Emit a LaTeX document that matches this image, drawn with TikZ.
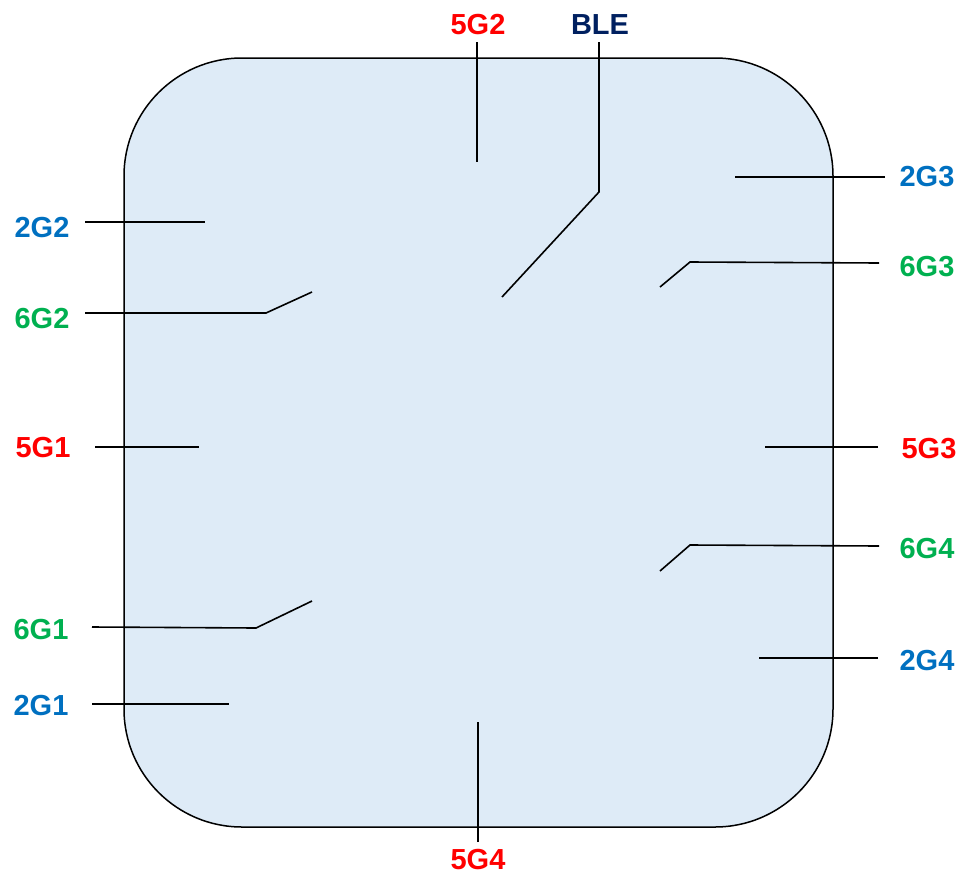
\documentclass[tikz,border=0pt]{standalone}
\usepackage{fontspec}
\setmainfont{Liberation Sans}
\definecolor{lblue}{HTML}{0070C0}
\definecolor{lgreen}{HTML}{00B050}
\definecolor{lred}{HTML}{FF0000}
\definecolor{lnavy}{HTML}{002060}
\definecolor{boxfill}{HTML}{DEEBF7}
\begin{document}
\begin{tikzpicture}[x=1pt,y=-1pt,
  lbl/.style={font=\fontsize{29}{33}\selectfont\bfseries, inner sep=0pt, anchor=center},
  feed/.style={line width=1.6pt, black}]
\useasboundingbox (0,0) rectangle (959,873);
\draw[line width=1.5pt, fill=boxfill, rounded corners=118pt] (124,58) rectangle (833,827);
% labels
\node[lbl, text=lred] (l5G2) at (478,25) {5G2};
\node[lbl, text=lnavy] (lBLE) at (600,25) {BLE};
\node[lbl, text=lblue] (l2G2) at (42,228) {2G2};
\node[lbl, text=lgreen] (l6G2) at (42,319) {6G2};
\node[lbl, text=lred] (l5G1) at (43,448) {5G1};
\node[lbl, text=lgreen] (l6G1) at (41,630) {6G1};
\node[lbl, text=lblue] (l2G1) at (41,706) {2G1};
\node[lbl, text=lblue] (l2G3) at (927,177) {2G3};
\node[lbl, text=lgreen] (l6G3) at (927,267) {6G3};
\node[lbl, text=lred] (l5G3) at (929,449) {5G3};
\node[lbl, text=lgreen] (l6G4) at (927,549) {6G4};
\node[lbl, text=lblue] (l2G4) at (927,661) {2G4};
\node[lbl, text=lred] (l5G4) at (478,860) {5G4};
% coordinates
\coordinate (a5G2) at (477,42);   \coordinate (b5G2) at (477,162);
\coordinate (aBLE) at (599,42);   \coordinate (kBLE) at (599,192); \coordinate (bBLE) at (502,297);
\coordinate (a2G2) at (85,222);   \coordinate (b2G2) at (205,222);
\coordinate (a6G2) at (85,313);   \coordinate (k6G2) at (266,313); \coordinate (b6G2) at (312,292);
\coordinate (a5G1) at (95,447);   \coordinate (b5G1) at (199,447);
\coordinate (a6G1) at (92,627);   \coordinate (k6G1) at (256,628); \coordinate (b6G1) at (312,601);
\coordinate (a2G1) at (92,704);   \coordinate (b2G1) at (229,704);
\coordinate (a2G3) at (885,177);  \coordinate (b2G3) at (735,177);
\coordinate (a6G3) at (879,263);  \coordinate (k6G3) at (690,262); \coordinate (b6G3) at (660,287);
\coordinate (a5G3) at (878,447);  \coordinate (b5G3) at (765,447);
\coordinate (a6G4) at (879,546);  \coordinate (k6G4) at (690,545); \coordinate (b6G4) at (660,571);
\coordinate (a2G4) at (878,658);  \coordinate (b2G4) at (759,658);
\coordinate (a5G4) at (478,842);  \coordinate (b5G4) at (478,722);
% feeds
\draw[feed] (a5G2) -- (b5G2);
\draw[feed] (aBLE) -- (kBLE) -- (bBLE);
\draw[feed] (a2G2) -- (b2G2);
\draw[feed] (a6G2) -- (k6G2) -- (b6G2);
\draw[feed] (a5G1) -- (b5G1);
\draw[feed] (a6G1) -- (k6G1) -- (b6G1);
\draw[feed] (a2G1) -- (b2G1);
\draw[feed] (a2G3) -- (b2G3);
\draw[feed] (a6G3) -- (k6G3) -- (b6G3);
\draw[feed] (a5G3) -- (b5G3);
\draw[feed] (a6G4) -- (k6G4) -- (b6G4);
\draw[feed] (a2G4) -- (b2G4);
\draw[feed] (a5G4) -- (b5G4);
\end{tikzpicture}
\end{document}
